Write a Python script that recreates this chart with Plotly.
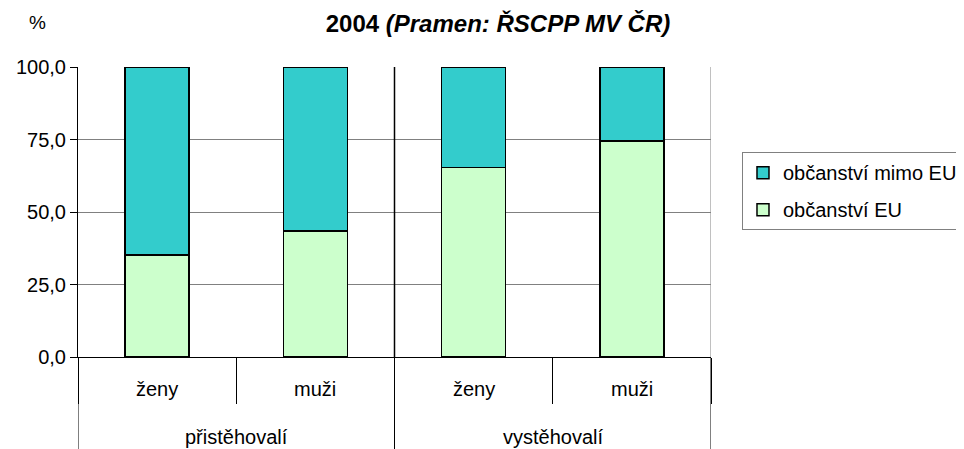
import plotly.graph_objects as go

groups = ["přistěhovalí", "přistěhovalí", "vystěhovalí", "vystěhovalí"]
sexes = ["ženy", "muži", "ženy", "muži"]
eu = [35.2, 43.4, 65.4, 74.5]
non_eu = [64.8, 56.6, 34.6, 25.5]
yticks = [0, 25, 50, 75, 100]
yticklabels = ["0,0", "25,0", "50,0", "75,0", "100,0"]

FONT = "Liberation Sans, Arial, sans-serif"
cats = [g + " | " + s for g, s in zip(groups, sexes)]

fig = go.Figure()
fig.add_trace(go.Bar(x=cats, y=eu, name="občanství EU", legendgroup="a", legendrank=2,
                     marker=dict(color="#CCFFCC", line=dict(color="black", width=1.5))))
fig.add_trace(go.Bar(x=cats, y=non_eu, name="občanství mimo EU", legendgroup="b", legendrank=1,
                     marker=dict(color="#33CCCC", line=dict(color="black", width=1.5))))

annotations = []
# category (sex) labels
for i, s in enumerate(sexes):
    annotations.append(dict(text=s, x=i, xref="x", y=-0.1103, yref="paper",
                            showarrow=False, xanchor="center", yanchor="middle",
                            font=dict(size=20, family=FONT)))
# group labels
ug = []
for g in groups:
    if g not in ug:
        ug.append(g)
for g in ug:
    idx = [i for i, gg in enumerate(groups) if gg == g]
    annotations.append(dict(text=g, x=(idx[0] + idx[-1]) / 2, xref="x", y=-0.2759, yref="paper",
                            showarrow=False, xanchor="center", yanchor="middle",
                            font=dict(size=20, family=FONT)))
annotations.append(dict(text="%", x=-0.0632, y=1.155, xref="paper", yref="paper",
                        showarrow=False, xanchor="center", yanchor="middle",
                        font=dict(size=19, family=FONT)))

fig.update_layout(
    barmode="stack",
    bargap=0.596,
    width=964, height=449,
    margin=dict(l=70, r=261, t=59, b=100),
    paper_bgcolor="white", plot_bgcolor="white",
    font=dict(family=FONT, size=20, color="black"),
    title=dict(text="<b>2004 <i>(Pramen: ŘSCPP MV ČR)</i></b>", x=0.5083, xanchor="center",
               xref="container", y=0.9644, yanchor="middle", font=dict(size=24, family=FONT)),
    legend=dict(x=0.7614, y=0.679, xref="container", yref="container",
                xanchor="left", yanchor="top", traceorder="grouped",
                bordercolor="#808080", borderwidth=1, font=dict(size=20, family=FONT),
                itemwidth=30, tracegroupgap=8),
    xaxis=dict(type="category", showline=True, linecolor="black", linewidth=1,
               showticklabels=False, tickson="boundaries",
               ticks="outside", ticklen=46, tickcolor="black", tickwidth=1,
               showgrid=False, automargin=False, range=[-0.5, 3.5]),
    yaxis=dict(range=[0, 100], tickvals=yticks, ticktext=yticklabels,
               showgrid=True, gridcolor="#808080", gridwidth=1,
               showline=True, linecolor="black", linewidth=1,
               ticks="outside", ticklen=7, tickcolor="black", automargin=False,
               tickfont=dict(size=20, family=FONT)),
    annotations=annotations,
)

# group separators
nb = len(groups)
bounds = [-0.5] + [i + 0.5 for i in range(nb - 1) if groups[i] != groups[i + 1]] + [nb - 0.5]
for b in bounds:
    fig.add_shape(type="line", xref="x", yref="paper", x0=b, x1=b, y0=-0.36, y1=0,
                  line=dict(color="black", width=1))
for b in bounds[1:-1]:
    fig.add_shape(type="line", xref="x", yref="paper", x0=b, x1=b, y0=0, y1=1,
                  line=dict(color="black", width=1.5))
fig.add_shape(type="line", xref="x", yref="paper", x0=bounds[-1], x1=bounds[-1], y0=0, y1=1,
              line=dict(color="#808080", width=1))

fig.write_html("out.html")
